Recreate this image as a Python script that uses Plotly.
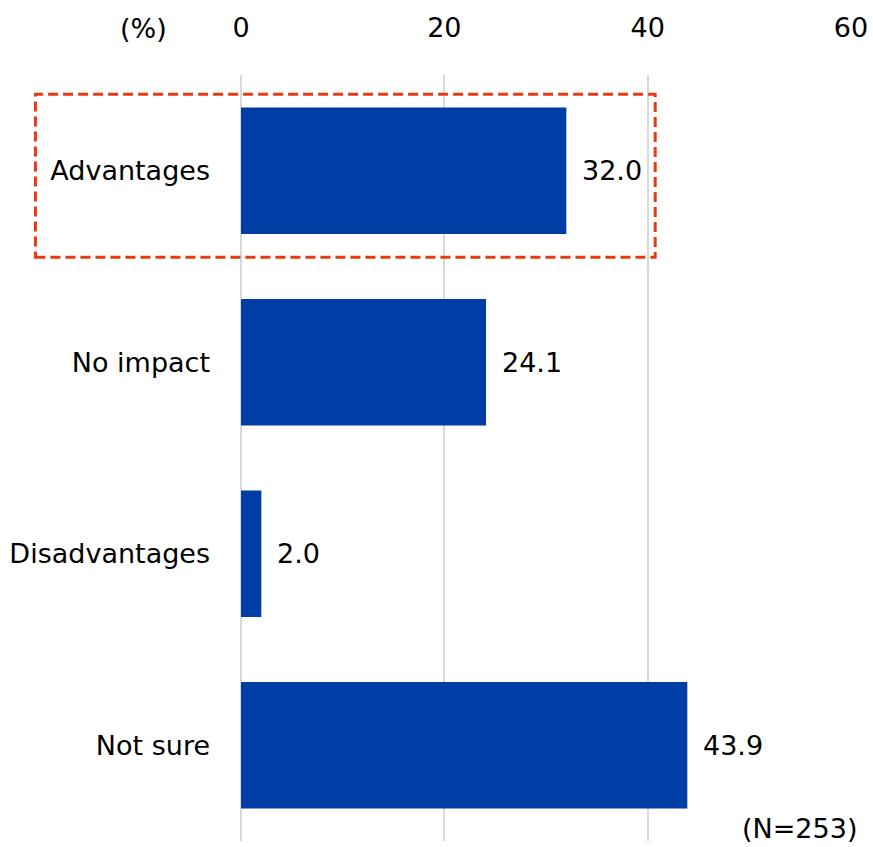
import plotly.graph_objects as go

categories = ["Advantages", "No impact", "Disadvantages", "Not sure"]
values = [32.0, 24.1, 2.0, 43.9]
tick_vals = [0, 20, 40, 60]

font_name = "DejaVu Sans"
font_size = 27
bar_color = "#003DA5"

fig = go.Figure(go.Bar(
    x=values, y=categories, orientation="h",
    marker=dict(color=bar_color, line=dict(width=0)),
    width=0.66,
))

# value labels to the right of each bar
for c, v in zip(categories, values):
    fig.add_annotation(x=v, y=c, text=f"{v:.1f}", showarrow=False,
                       xanchor="left", xshift=14,
                       font=dict(family=font_name, size=font_size, color="black"))

fig.add_annotation(xref="paper", yref="paper", x=-0.16, y=1.0, yshift=47,
                   text="(%)", showarrow=False, xanchor="center", yanchor="middle",
                   font=dict(family=font_name, size=font_size, color="black"))
fig.add_annotation(xref="paper", yref="paper", x=0.915, y=0.016,
                   text="(N=253)", showarrow=False, xanchor="center", yanchor="middle",
                   font=dict(family=font_name, size=font_size, color="black"))

# dashed highlight box around the first row
fig.add_shape(type="rect", xref="paper", yref="paper",
              x0=-0.337, x1=0.679, y0=0.762, y1=0.975,
              line=dict(color="#E63B12", width=3, dash="10px,5px"))

fig.update_layout(
    width=873, height=847,
    margin=dict(l=241, r=22, t=75, b=6),
    plot_bgcolor="white", paper_bgcolor="white",
    showlegend=False,
    font=dict(family=font_name, size=font_size, color="black"),
    xaxis=dict(side="top", range=[0, 60], tickvals=tick_vals,
               showgrid=True, gridcolor="#D9D9D9", gridwidth=2,
               zeroline=True, zerolinecolor="#D9D9D9", zerolinewidth=2,
               showline=False, ticklabelstandoff=32, fixedrange=True),
    yaxis=dict(autorange="reversed", showgrid=False, showline=False,
               ticklabelstandoff=30, fixedrange=True),
)

fig.write_html("out.html", config={"displayModeBar": False},
               post_script="document.body.style.margin='0';")
